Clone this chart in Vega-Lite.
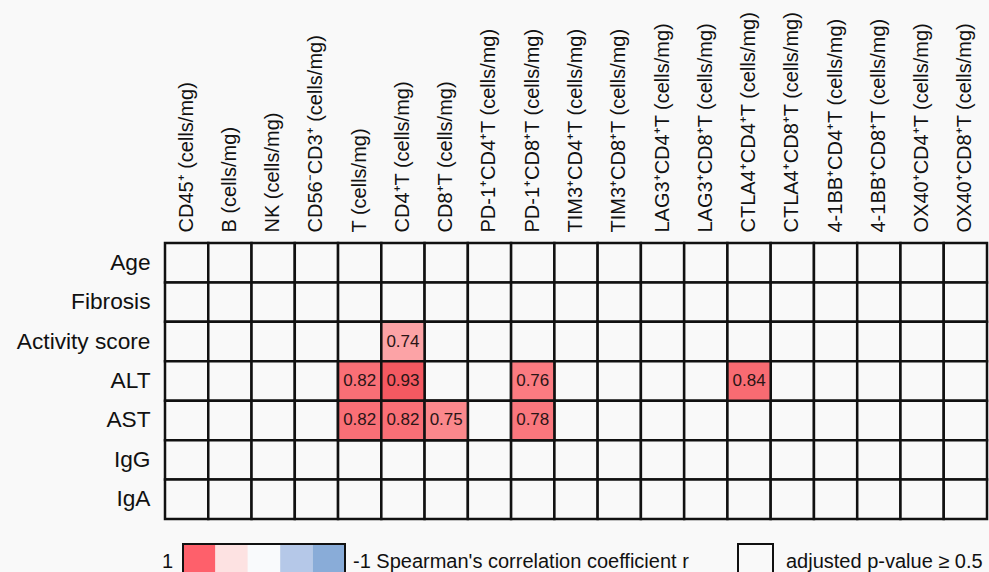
{
"$schema": "https://vega.github.io/schema/vega-lite/v6.json",
"background": "#f9f9f9",
"padding": 0,
"spacing": 22,
"config": {"view": {"stroke": null}, "font": "Liberation Sans"},
"vconcat": [
{
"width": 822,
"height": 276,
"data": {"values": [
{"v":"Age","m":"CD45⁺ (cells/mg)"},{"v":"Age","m":"B (cells/mg)"},{"v":"Age","m":"NK (cells/mg)"},{"v":"Age","m":"CD56⁻CD3⁺ (cells/mg)"},{"v":"Age","m":"T (cells/mg)"},{"v":"Age","m":"CD4⁺T (cells/mg)"},{"v":"Age","m":"CD8⁺T (cells/mg)"},{"v":"Age","m":"PD-1⁺CD4⁺T (cells/mg)"},{"v":"Age","m":"PD-1⁺CD8⁺T (cells/mg)"},{"v":"Age","m":"TIM3⁺CD4⁺T (cells/mg)"},{"v":"Age","m":"TIM3⁺CD8⁺T (cells/mg)"},{"v":"Age","m":"LAG3⁺CD4⁺T (cells/mg)"},{"v":"Age","m":"LAG3⁺CD8⁺T (cells/mg)"},{"v":"Age","m":"CTLA4⁺CD4⁺T (cells/mg)"},{"v":"Age","m":"CTLA4⁺CD8⁺T (cells/mg)"},{"v":"Age","m":"4-1BB⁺CD4⁺T (cells/mg)"},{"v":"Age","m":"4-1BB⁺CD8⁺T (cells/mg)"},{"v":"Age","m":"OX40⁺CD4⁺T (cells/mg)"},{"v":"Age","m":"OX40⁺CD8⁺T (cells/mg)"},
{"v":"Fibrosis","m":"CD45⁺ (cells/mg)"},{"v":"Fibrosis","m":"B (cells/mg)"},{"v":"Fibrosis","m":"NK (cells/mg)"},{"v":"Fibrosis","m":"CD56⁻CD3⁺ (cells/mg)"},{"v":"Fibrosis","m":"T (cells/mg)"},{"v":"Fibrosis","m":"CD4⁺T (cells/mg)"},{"v":"Fibrosis","m":"CD8⁺T (cells/mg)"},{"v":"Fibrosis","m":"PD-1⁺CD4⁺T (cells/mg)"},{"v":"Fibrosis","m":"PD-1⁺CD8⁺T (cells/mg)"},{"v":"Fibrosis","m":"TIM3⁺CD4⁺T (cells/mg)"},{"v":"Fibrosis","m":"TIM3⁺CD8⁺T (cells/mg)"},{"v":"Fibrosis","m":"LAG3⁺CD4⁺T (cells/mg)"},{"v":"Fibrosis","m":"LAG3⁺CD8⁺T (cells/mg)"},{"v":"Fibrosis","m":"CTLA4⁺CD4⁺T (cells/mg)"},{"v":"Fibrosis","m":"CTLA4⁺CD8⁺T (cells/mg)"},{"v":"Fibrosis","m":"4-1BB⁺CD4⁺T (cells/mg)"},{"v":"Fibrosis","m":"4-1BB⁺CD8⁺T (cells/mg)"},{"v":"Fibrosis","m":"OX40⁺CD4⁺T (cells/mg)"},{"v":"Fibrosis","m":"OX40⁺CD8⁺T (cells/mg)"},
{"v":"Activity score","m":"CD45⁺ (cells/mg)"},{"v":"Activity score","m":"B (cells/mg)"},{"v":"Activity score","m":"NK (cells/mg)"},{"v":"Activity score","m":"CD56⁻CD3⁺ (cells/mg)"},{"v":"Activity score","m":"T (cells/mg)"},{"v":"Activity score","m":"CD4⁺T (cells/mg)","r":0.74},{"v":"Activity score","m":"CD8⁺T (cells/mg)"},{"v":"Activity score","m":"PD-1⁺CD4⁺T (cells/mg)"},{"v":"Activity score","m":"PD-1⁺CD8⁺T (cells/mg)"},{"v":"Activity score","m":"TIM3⁺CD4⁺T (cells/mg)"},{"v":"Activity score","m":"TIM3⁺CD8⁺T (cells/mg)"},{"v":"Activity score","m":"LAG3⁺CD4⁺T (cells/mg)"},{"v":"Activity score","m":"LAG3⁺CD8⁺T (cells/mg)"},{"v":"Activity score","m":"CTLA4⁺CD4⁺T (cells/mg)"},{"v":"Activity score","m":"CTLA4⁺CD8⁺T (cells/mg)"},{"v":"Activity score","m":"4-1BB⁺CD4⁺T (cells/mg)"},{"v":"Activity score","m":"4-1BB⁺CD8⁺T (cells/mg)"},{"v":"Activity score","m":"OX40⁺CD4⁺T (cells/mg)"},{"v":"Activity score","m":"OX40⁺CD8⁺T (cells/mg)"},
{"v":"ALT","m":"CD45⁺ (cells/mg)"},{"v":"ALT","m":"B (cells/mg)"},{"v":"ALT","m":"NK (cells/mg)"},{"v":"ALT","m":"CD56⁻CD3⁺ (cells/mg)"},{"v":"ALT","m":"T (cells/mg)","r":0.82},{"v":"ALT","m":"CD4⁺T (cells/mg)","r":0.93},{"v":"ALT","m":"CD8⁺T (cells/mg)"},{"v":"ALT","m":"PD-1⁺CD4⁺T (cells/mg)"},{"v":"ALT","m":"PD-1⁺CD8⁺T (cells/mg)","r":0.76},{"v":"ALT","m":"TIM3⁺CD4⁺T (cells/mg)"},{"v":"ALT","m":"TIM3⁺CD8⁺T (cells/mg)"},{"v":"ALT","m":"LAG3⁺CD4⁺T (cells/mg)"},{"v":"ALT","m":"LAG3⁺CD8⁺T (cells/mg)"},{"v":"ALT","m":"CTLA4⁺CD4⁺T (cells/mg)","r":0.84},{"v":"ALT","m":"CTLA4⁺CD8⁺T (cells/mg)"},{"v":"ALT","m":"4-1BB⁺CD4⁺T (cells/mg)"},{"v":"ALT","m":"4-1BB⁺CD8⁺T (cells/mg)"},{"v":"ALT","m":"OX40⁺CD4⁺T (cells/mg)"},{"v":"ALT","m":"OX40⁺CD8⁺T (cells/mg)"},
{"v":"AST","m":"CD45⁺ (cells/mg)"},{"v":"AST","m":"B (cells/mg)"},{"v":"AST","m":"NK (cells/mg)"},{"v":"AST","m":"CD56⁻CD3⁺ (cells/mg)"},{"v":"AST","m":"T (cells/mg)","r":0.82},{"v":"AST","m":"CD4⁺T (cells/mg)","r":0.82},{"v":"AST","m":"CD8⁺T (cells/mg)","r":0.75},{"v":"AST","m":"PD-1⁺CD4⁺T (cells/mg)"},{"v":"AST","m":"PD-1⁺CD8⁺T (cells/mg)","r":0.78},{"v":"AST","m":"TIM3⁺CD4⁺T (cells/mg)"},{"v":"AST","m":"TIM3⁺CD8⁺T (cells/mg)"},{"v":"AST","m":"LAG3⁺CD4⁺T (cells/mg)"},{"v":"AST","m":"LAG3⁺CD8⁺T (cells/mg)"},{"v":"AST","m":"CTLA4⁺CD4⁺T (cells/mg)"},{"v":"AST","m":"CTLA4⁺CD8⁺T (cells/mg)"},{"v":"AST","m":"4-1BB⁺CD4⁺T (cells/mg)"},{"v":"AST","m":"4-1BB⁺CD8⁺T (cells/mg)"},{"v":"AST","m":"OX40⁺CD4⁺T (cells/mg)"},{"v":"AST","m":"OX40⁺CD8⁺T (cells/mg)"},
{"v":"IgG","m":"CD45⁺ (cells/mg)"},{"v":"IgG","m":"B (cells/mg)"},{"v":"IgG","m":"NK (cells/mg)"},{"v":"IgG","m":"CD56⁻CD3⁺ (cells/mg)"},{"v":"IgG","m":"T (cells/mg)"},{"v":"IgG","m":"CD4⁺T (cells/mg)"},{"v":"IgG","m":"CD8⁺T (cells/mg)"},{"v":"IgG","m":"PD-1⁺CD4⁺T (cells/mg)"},{"v":"IgG","m":"PD-1⁺CD8⁺T (cells/mg)"},{"v":"IgG","m":"TIM3⁺CD4⁺T (cells/mg)"},{"v":"IgG","m":"TIM3⁺CD8⁺T (cells/mg)"},{"v":"IgG","m":"LAG3⁺CD4⁺T (cells/mg)"},{"v":"IgG","m":"LAG3⁺CD8⁺T (cells/mg)"},{"v":"IgG","m":"CTLA4⁺CD4⁺T (cells/mg)"},{"v":"IgG","m":"CTLA4⁺CD8⁺T (cells/mg)"},{"v":"IgG","m":"4-1BB⁺CD4⁺T (cells/mg)"},{"v":"IgG","m":"4-1BB⁺CD8⁺T (cells/mg)"},{"v":"IgG","m":"OX40⁺CD4⁺T (cells/mg)"},{"v":"IgG","m":"OX40⁺CD8⁺T (cells/mg)"},
{"v":"IgA","m":"CD45⁺ (cells/mg)"},{"v":"IgA","m":"B (cells/mg)"},{"v":"IgA","m":"NK (cells/mg)"},{"v":"IgA","m":"CD56⁻CD3⁺ (cells/mg)"},{"v":"IgA","m":"T (cells/mg)"},{"v":"IgA","m":"CD4⁺T (cells/mg)"},{"v":"IgA","m":"CD8⁺T (cells/mg)"},{"v":"IgA","m":"PD-1⁺CD4⁺T (cells/mg)"},{"v":"IgA","m":"PD-1⁺CD8⁺T (cells/mg)"},{"v":"IgA","m":"TIM3⁺CD4⁺T (cells/mg)"},{"v":"IgA","m":"TIM3⁺CD8⁺T (cells/mg)"},{"v":"IgA","m":"LAG3⁺CD4⁺T (cells/mg)"},{"v":"IgA","m":"LAG3⁺CD8⁺T (cells/mg)"},{"v":"IgA","m":"CTLA4⁺CD4⁺T (cells/mg)"},{"v":"IgA","m":"CTLA4⁺CD8⁺T (cells/mg)"},{"v":"IgA","m":"4-1BB⁺CD4⁺T (cells/mg)"},{"v":"IgA","m":"4-1BB⁺CD8⁺T (cells/mg)"},{"v":"IgA","m":"OX40⁺CD4⁺T (cells/mg)"},{"v":"IgA","m":"OX40⁺CD8⁺T (cells/mg)"}
]},
"encoding": {
"x": {"field": "m", "type": "nominal", "sort": null, "title": null,
"scale": {"paddingInner": 0, "paddingOuter": 0},
"axis": {"orient": "top", "labelAngle": -90, "labelAlign": "left", "labelBaseline": "middle", "ticks": false, "domain": false, "labelPadding": 11, "labelFont": "Liberation Sans", "labelFontSize": 20, "labelColor": "#111", "labelLimit": 400, "minExtent": 243}},
"y": {"field": "v", "type": "nominal", "sort": null, "title": null,
"scale": {"paddingInner": 0, "paddingOuter": 0},
"axis": {"ticks": false, "domain": false, "labelPadding": 15, "labelFont": "Liberation Sans", "labelFontSize": 22.7, "labelColor": "#111", "labelLimit": 300, "minExtent": 165}}
},
"layer": [
{"mark": {"type": "rect", "fill": "#f9f9f9", "stroke": "#111", "strokeWidth": 2.5}},
{"transform": [{"filter": "isValid(datum.r)"}],
"mark": {"type": "rect", "stroke": "#111", "strokeWidth": 2.5},
"encoding": {"fill": {"field": "r", "type": "quantitative", "scale": {"domain": [0.74, 0.75, 0.76, 0.93], "range": ["#fca3a6", "#fb888c", "#fb7b81", "#f45961"], "interpolate": "rgb"}, "legend": null}}},
{"transform": [{"filter": "isValid(datum.r)"}],
"mark": {"type": "text", "font": "Liberation Sans", "fontSize": 17, "color": "#2a1515"},
"encoding": {"text": {"field": "r", "type": "quantitative", "format": ".2f"}}}
]
},
{
"width": 822,
"height": 36,
"resolve": {"scale": {"x": "independent", "fill": "independent"}},
"layer": [
{"data": {"values": [{"r": 1}, {"r": 0.5}, {"r": 0}, {"r": -0.5}, {"r": -1}]},
"mark": {"type": "rect"},
"encoding": {
"x": {"field": "r", "type": "ordinal", "scale": {"domain": [1, 0.5, 0, -0.5, -1], "range": [18, 180], "paddingInner": 0, "paddingOuter": 0}, "axis": null},
"fill": {"field": "r", "type": "ordinal", "scale": {"domain": [1, 0.5, 0, -0.5, -1], "range": ["#fe606b", "#fde2e2", "#f9fafc", "#b5c8e8", "#89acd8"]}, "legend": null}}},
{"data": {"values": [{"g": "bar"}]},
"mark": {"type": "rect", "fillOpacity": 0, "stroke": "#111", "strokeWidth": 2},
"encoding": {"x": {"field": "g", "type": "nominal", "scale": {"range": [18, 180], "paddingInner": 0, "paddingOuter": 0}, "axis": null}}},
{"data": {"values": [{"g": "p"}]},
"mark": {"type": "rect", "fill": "#f9f9f9", "stroke": "#111", "strokeWidth": 2},
"encoding": {"x": {"field": "g", "type": "nominal", "scale": {"range": [573, 608], "paddingInner": 0, "paddingOuter": 0}, "axis": null}}},
{"data": {"values": [{"t": "1"}]},
"mark": {"type": "text", "align": "right", "baseline": "middle", "font": "Liberation Sans", "fontSize": 20, "color": "#111"},
"encoding": {"x": {"field": "t", "type": "nominal", "scale": {"type": "point", "range": [7, 9]}, "axis": null}, "text": {"field": "t"}}},
{"data": {"values": [{"t": "-1 Spearman's correlation coefficient r"}]},
"mark": {"type": "text", "align": "left", "baseline": "middle", "font": "Liberation Sans", "fontSize": 20, "color": "#111"},
"encoding": {"x": {"field": "t", "type": "nominal", "scale": {"type": "point", "range": [187, 189]}, "axis": null}, "text": {"field": "t"}}},
{"data": {"values": [{"t": "adjusted p-value ≥ 0.5"}]},
"mark": {"type": "text", "align": "left", "baseline": "middle", "font": "Liberation Sans", "fontSize": 20, "color": "#111"},
"encoding": {"x": {"field": "t", "type": "nominal", "scale": {"type": "point", "range": [620, 622]}, "axis": null}, "text": {"field": "t"}}}
]
}
]
}
